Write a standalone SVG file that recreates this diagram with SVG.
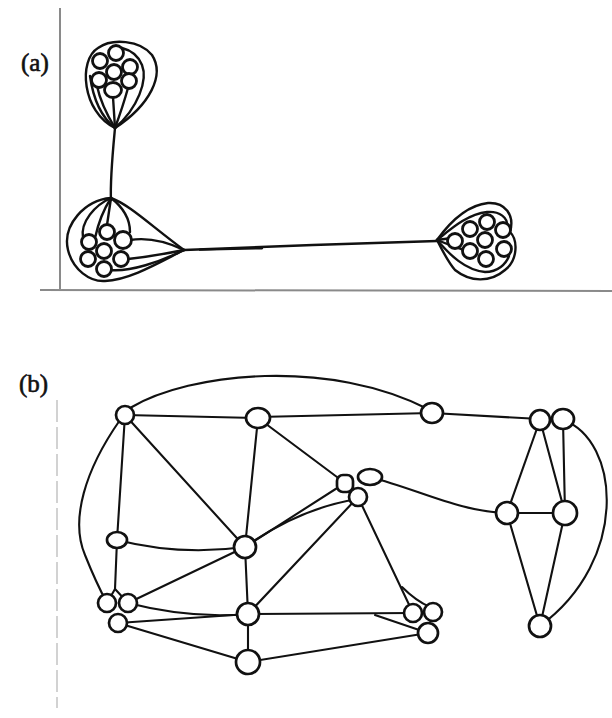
<svg xmlns="http://www.w3.org/2000/svg" width="612" height="718" viewBox="0 0 612 718">
<style>
.lbl{font-family:"Liberation Serif",serif;font-size:25px;fill:#111;stroke:#111;stroke-width:0.6}
.ax{fill:none;stroke:#8a8a8a;stroke-width:2}
.e{fill:none;stroke:#111;stroke-width:2.1;stroke-linecap:round;stroke-linejoin:round}
.sk{fill:none;stroke:#111;stroke-width:2.4;stroke-linecap:round}
.n{fill:#fff;stroke:#111;stroke-width:2.7}
.sn{fill:#fff;stroke:#111;stroke-width:2.8}
</style>
<rect width="612" height="718" fill="#fff"/>
<text class="lbl" x="21" y="71">(a)</text>
<text class="lbl" x="19" y="392">(b)</text>
<line class="ax" x1="60" y1="8" x2="60" y2="289"/>
<line class="ax" x1="40" y1="290" x2="612" y2="291" stroke-width="2.5"/>
<line x1="57" y1="400" x2="57" y2="708" stroke="#d2d2d2" stroke-width="2" stroke-dasharray="22 5"/>

<g id="connectors-a">
<path class="sk" d="M115,128 C112,160 110,180 111,200" stroke-width="4.5"/>
<path class="sk" d="M184,250 C260,247 360,243 437,241" stroke-width="3.5"/>
<path class="sk" d="M200,249.6 C220,249.3 240,248.8 262,248.2" stroke-width="6"/>
</g>

<g id="cluster-top">
<path class="sk" d="M115,128 C82,112 78,60 98,48 C112,38 140,40 152,55 C165,75 150,105 115,128"/>
<path class="sk" d="M115,128 C138,108 148,80 142,65 C138,55 130,50 122,48"/>
<path class="sk" d="M115,128 Q95,112 90,76"/>
<path class="sk" d="M115,128 Q101,105 97,86"/>
<path class="sk" d="M115,128 L113,97"/>
<path class="sk" d="M115,128 Q123,106 128,88"/>
<circle class="sn" cx="100" cy="61" r="7.5"/>
<circle class="sn" cx="116" cy="53" r="7.5"/>
<circle class="sn" cx="130" cy="67" r="7.5"/>
<circle class="sn" cx="114" cy="72" r="7.5"/>
<circle class="sn" cx="99" cy="80" r="7.5"/>
<circle class="sn" cx="129" cy="81" r="7.5"/>
<ellipse class="sn" cx="113" cy="90" rx="8.5" ry="7.5"/>
</g>

<g id="cluster-left">
<path class="sk" d="M111,198 C85,200 62,225 68,250 C73,270 90,282 105,281 C130,280 160,262 184,250"/>
<path class="sk" d="M111,198 C95,205 80,222 83,238"/>
<path class="sk" d="M111,198 C130,205 150,225 184,250"/>
<path class="sk" d="M111,198 C120,205 130,215 130,232"/>
<path class="sk" d="M111,198 L107,225"/>
<path class="sk" d="M111,198 Q100,215 95,238"/>
<path class="sk" d="M184,250 Q155,236 130,240"/>
<path class="sk" d="M184,250 Q155,256 128,259"/>
<path class="sk" d="M184,250 C160,262 130,272 110,270"/>
<circle class="sn" cx="107" cy="232" r="7.5"/>
<circle class="sn" cx="123" cy="240" r="8.5"/>
<circle class="sn" cx="89" cy="242" r="7.5"/>
<circle class="sn" cx="104" cy="251" r="7.5"/>
<circle class="sn" cx="88" cy="259" r="7.5"/>
<circle class="sn" cx="121" cy="259" r="7.5"/>
<circle class="sn" cx="104" cy="269" r="7.5"/>
</g>

<g id="cluster-right">
<path class="sk" d="M437,240 C450,222 468,205 488,203 C505,202 515,215 510,232 C518,240 518,260 505,270 C490,283 470,282 455,270 C448,262 442,250 437,240"/>
<path class="sk" d="M437,240 C452,228 468,214 487,212 C500,211 508,218 507,226"/>
<path class="sk" d="M437,240 C450,255 465,270 485,272 C498,272 506,264 509,256"/>
<path class="sk" d="M437,240 L452,238"/>
<path class="sk" d="M437,240 Q452,246 464,250"/>
<circle class="sn" cx="470" cy="229" r="7.5"/>
<circle class="sn" cx="487" cy="222" r="7.5"/>
<circle class="sn" cx="503" cy="230" r="7.5"/>
<circle class="sn" cx="455" cy="241" r="7.5"/>
<circle class="sn" cx="485" cy="240" r="7.5"/>
<circle class="sn" cx="504" cy="249" r="7.5"/>
<circle class="sn" cx="470" cy="251" r="7.5"/>
<circle class="sn" cx="486" cy="259" r="7.5"/>
</g>

<g id="connectors-b">
<path class="e" d="M125,415 L258,418"/>
<path class="e" d="M130,408 C190,372 330,358 430,410"/>
<path class="e" d="M258,417 L432,413"/>
<path class="e" d="M432,413 L540,419"/>
<path class="e" d="M125,415 L117,540"/>
<path class="e" d="M125,415 L245,547"/>
<path class="e" d="M120,420 C85,470 70,520 85,555 C93,575 100,590 107,603"/>
<path class="e" d="M258,418 L245,547"/>
<path class="e" d="M258,418 L345,483"/>
<path class="e" d="M117,540 Q180,556 245,547"/>
<path class="e" d="M245,547 L345,483"/>
<path class="e" d="M245,547 Q300,508 358,499"/>
<path class="e" d="M358,497 L248,614"/>
<path class="e" d="M358,497 L413,613"/>
<path class="e" d="M402,587 Q416,601 430,607"/>
<path class="e" d="M370,477 C420,490 460,512 507,513"/>
<path class="e" d="M507,513 L565,513"/>
<path class="e" d="M540,420 L507,513"/>
<path class="e" d="M540,420 L565,513"/>
<path class="e" d="M563,420 L565,513"/>
<path class="e" d="M563,420 C620,440 630,560 540,626"/>
<path class="e" d="M507,513 L540,626"/>
<path class="e" d="M565,513 L540,626"/>
<path class="e" d="M117,540 L115,589 L107,603"/>
<path class="e" d="M115,589 L128,603"/>
<path class="e" d="M128,603 L245,547"/>
<path class="e" d="M128,603 Q190,619 248,614"/>
<path class="e" d="M118,623 L248,614"/>
<path class="e" d="M118,623 L248,662"/>
<path class="e" d="M245,547 L248,614"/>
<path class="e" d="M248,614 L248,662"/>
<path class="e" d="M248,614 L413,613"/>
<path class="e" d="M375,615 L428,633"/>
<path class="e" d="M248,662 L428,633"/>
</g>

<g id="n1"><circle class="n" cx="125" cy="415" r="9"/></g>
<g id="n2"><ellipse class="n" cx="258" cy="418" rx="12" ry="10"/></g>
<g id="n3"><ellipse class="n" cx="432" cy="413" rx="11" ry="10"/></g>
<g id="n4"><circle class="n" cx="540" cy="420" r="10"/></g>
<g id="n5"><ellipse class="n" cx="563" cy="419" rx="11" ry="10"/></g>
<g id="m1"><rect class="n" x="337" y="475" width="16" height="17" rx="6"/></g>
<g id="m2"><ellipse class="n" cx="370" cy="477" rx="12" ry="8"/></g>
<g id="m3"><circle class="n" cx="358" cy="497" r="9"/></g>
<g id="n6"><circle class="n" cx="507" cy="513" r="11"/></g>
<g id="n7"><circle class="n" cx="565" cy="513" r="12"/></g>
<g id="n8"><ellipse class="n" cx="540" cy="626" rx="11" ry="11"/></g>
<g id="n9"><ellipse class="n" cx="117" cy="540" rx="10" ry="8"/></g>
<g id="n10"><circle class="n" cx="245" cy="547" r="11"/></g>
<g id="l1"><circle class="n" cx="107" cy="603" r="9"/></g>
<g id="l2"><circle class="n" cx="128" cy="603" r="9"/></g>
<g id="l3"><circle class="n" cx="118" cy="623" r="9"/></g>
<g id="n11"><circle class="n" cx="248" cy="614" r="11"/></g>
<g id="n12"><circle class="n" cx="248" cy="662" r="12"/></g>
<g id="r1"><circle class="n" cx="413" cy="613" r="9"/></g>
<g id="r2"><circle class="n" cx="433" cy="612" r="9"/></g>
<g id="r3"><circle class="n" cx="428" cy="633" r="10"/></g>
</svg>
